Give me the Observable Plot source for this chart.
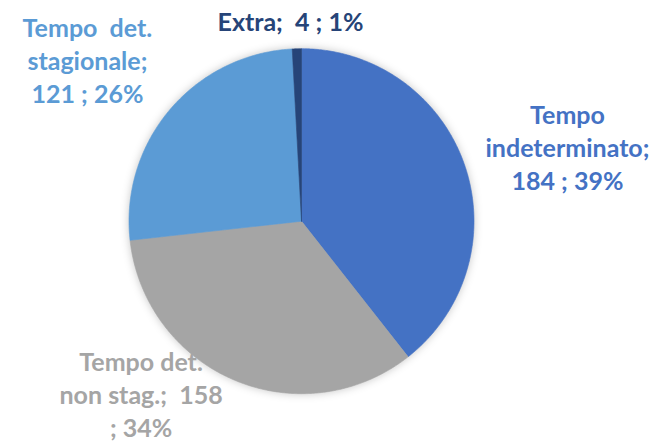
<!DOCTYPE html>
<html>
<head>
<meta charset="utf-8">
<script src="https://cdn.jsdelivr.net/npm/d3@7"></script>
<script src="https://cdn.jsdelivr.net/npm/@observablehq/plot@0.6"></script>
<style>
  html, body { margin: 0; padding: 0; background: #fff; }
  svg text { white-space: pre; }
</style>
</head>
<body>
<div id="chart"></div>
<script>
// Data
const categories = ["Tempo indeterminato", "Tempo det. non stag.", "Tempo det. stagionale", "Extra"];
const values = [184, 158, 121, 4];
const colors = ["#4472C4", "#A5A5A5", "#5B9BD5", "#264478"];
// label text lines (name part) as shown on the chart
const labelNames = ["Tempo\nindeterminato;\n", "Tempo det.\nnon stag.;  ", "Tempo  det.\nstagionale;\n", "Extra;  "];
const labelSeps = [" ; ", "\n; ", " ; ", " ; "];
// label anchor positions (layout, in pie-radius units)
const labelX = [1.542, -0.930, -1.241, -0.064];
const labelY = [0.432, -1.000, 0.937, 1.163];

const total = d3.sum(values);
const pie = d3.pie().sort(null).value(d => d.value)(categories.map((c, i) => ({name: c, value: values[i]})));

// polygon points for each slice (center + arc sampled), derived from pie angles
const pts = [];
pie.forEach(s => {
  const n = Math.max(2, Math.ceil((s.endAngle - s.startAngle) / (Math.PI / 360)));
  pts.push({name: s.data.name, x: 0, y: 0});
  for (let k = 0; k <= n; k++) {
    const a = s.startAngle + (s.endAngle - s.startAngle) * k / n;
    pts.push({name: s.data.name, x: Math.sin(a), y: Math.cos(a)});
  }
  pts.push({name: s.data.name, x: 0, y: 0});
});

const labels = categories.map((c, i) => ({
  name: c,
  text: labelNames[i] + values[i] + labelSeps[i] + Math.round(values[i] / total * 100) + "%",
  x: labelX[i],
  y: labelY[i]
}));

const chart = Plot.plot({
  width: 657,
  height: 443,
  margin: 0,
  x: {domain: [-1, 1], range: [128.5, 473.5], axis: null},
  y: {domain: [-1, 1], range: [393.2, 48.2], axis: null},
  color: {domain: categories, range: colors},
  style: {fontFamily: "Lato, 'Open Sans', sans-serif", background: "#fff"},
  marks: [
    Plot.line(pts, {x: "x", y: "y", z: "name", fill: "name", stroke: "name", strokeWidth: 0.6, curve: "linear"}),
    Plot.text(labels, {x: "x", y: "y", text: "text", fill: "name", fontSize: 25, fontWeight: "bold", lineHeight: 1.32, textAnchor: "middle", lineAnchor: "middle"})
  ]
});
d3.select(chart).select('g[aria-label="line"]').style("filter", "drop-shadow(0px 0px 4px rgba(0,0,0,0.22))");
document.getElementById("chart").appendChild(chart);
</script>
</body>
</html>
